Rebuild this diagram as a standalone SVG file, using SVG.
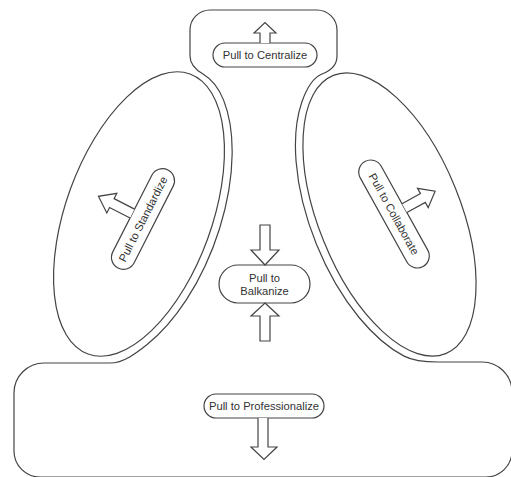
<svg xmlns="http://www.w3.org/2000/svg" width="511" height="477" viewBox="0 0 511 477">
<style>
.ln{fill:none;stroke:#444;stroke-width:1.2;stroke-linejoin:round;stroke-linecap:round}
.pill{fill:#fff;stroke:#444;stroke-width:1.2}
.arr{fill:#fff;stroke:#444;stroke-width:1.2;stroke-linejoin:miter}
.t{font-family:"Liberation Sans",Arial,Helvetica,sans-serif;font-size:11.2px;fill:#333;text-anchor:middle}
</style>
<rect width="511" height="477" fill="#fff"/>
<g id="outline">
<path class="ln" d="M190,56 V30 A20,20 0 0 1 210,10 H317 A20,20 0 0 1 337,30 V56 C337,66 330,71 322,74 C312,78 306,90 301.7,102.5 A79,158 -22 0 0 404.1,356.1 C413,360.7 426,362 438,362 H482 A30,30 0 0 1 512,392 V451 A26,26 0 0 1 486,477 H40 A26,26 0 0 1 14,451 V393 A30,30 0 0 1 44,363 H110 C124,363 137.4,352.2 146.8,344.8 A81,157 20 0 0 223.6,100.1 C219.9,90.8 213,80 203,74 C196,70 190,65 190,56 Z"/>
</g>
<g id="connectors"></g>
<g id="centralize">
<rect class="pill" x="213" y="43" width="104" height="24" rx="12"/>
<polyline class="arr" points="260,43 260,33 254,33 265,22.5 276,33 270,33 270,43"/>
<text class="t" x="265" y="59">Pull to Centralize</text>
</g>
<g id="standardize">
<ellipse class="ln" cx="139" cy="214" rx="73" ry="149" transform="rotate(20 139 214)"/>
<g transform="translate(143,219) rotate(-63)">
<rect class="pill" x="-55" y="-12" width="110" height="24" rx="12"/>
<polyline class="arr" points="-5,-12 -5,-35 -11,-35 0,-50 11,-35 5,-35 5,-12"/>
<text class="t" x="0" y="4">Pull to Standardize</text>
</g>
</g>
<g id="collaborate">
<ellipse class="ln" cx="389.5" cy="214.5" rx="71" ry="150" transform="rotate(-22 389.5 214.5)"/>
<g transform="translate(394,214) rotate(61)">
<rect class="pill" x="-60" y="-12" width="120" height="24" rx="12"/>
<polyline class="arr" points="-5,-12 -5,-33 -11,-33 0,-47 11,-33 5,-33 5,-12"/>
<text class="t" x="0" y="4">Pull to Collaborate</text>
</g>
</g>
<g id="balkanize">
<rect class="pill" x="219" y="265" width="91" height="38" rx="19"/>
<polygon class="arr" points="260,225 270,225 270,250 279,250 265,265 251,250 260,250"/>
<polygon class="arr" points="265,303 279,316 270,316 270,341 260,341 260,316 251,316"/>
<text class="t" x="264.5" y="282">Pull to</text>
<text class="t" x="264.5" y="295">Balkanize</text>
</g>
<g id="professionalize">
<rect class="pill" x="204" y="394" width="120" height="24" rx="12"/>
<polyline class="arr" points="258,418 258,447 251,447 264,459.5 277,447 268,447 268,418"/>
<text class="t" x="264" y="410">Pull to Professionalize</text>
</g>
</svg>
